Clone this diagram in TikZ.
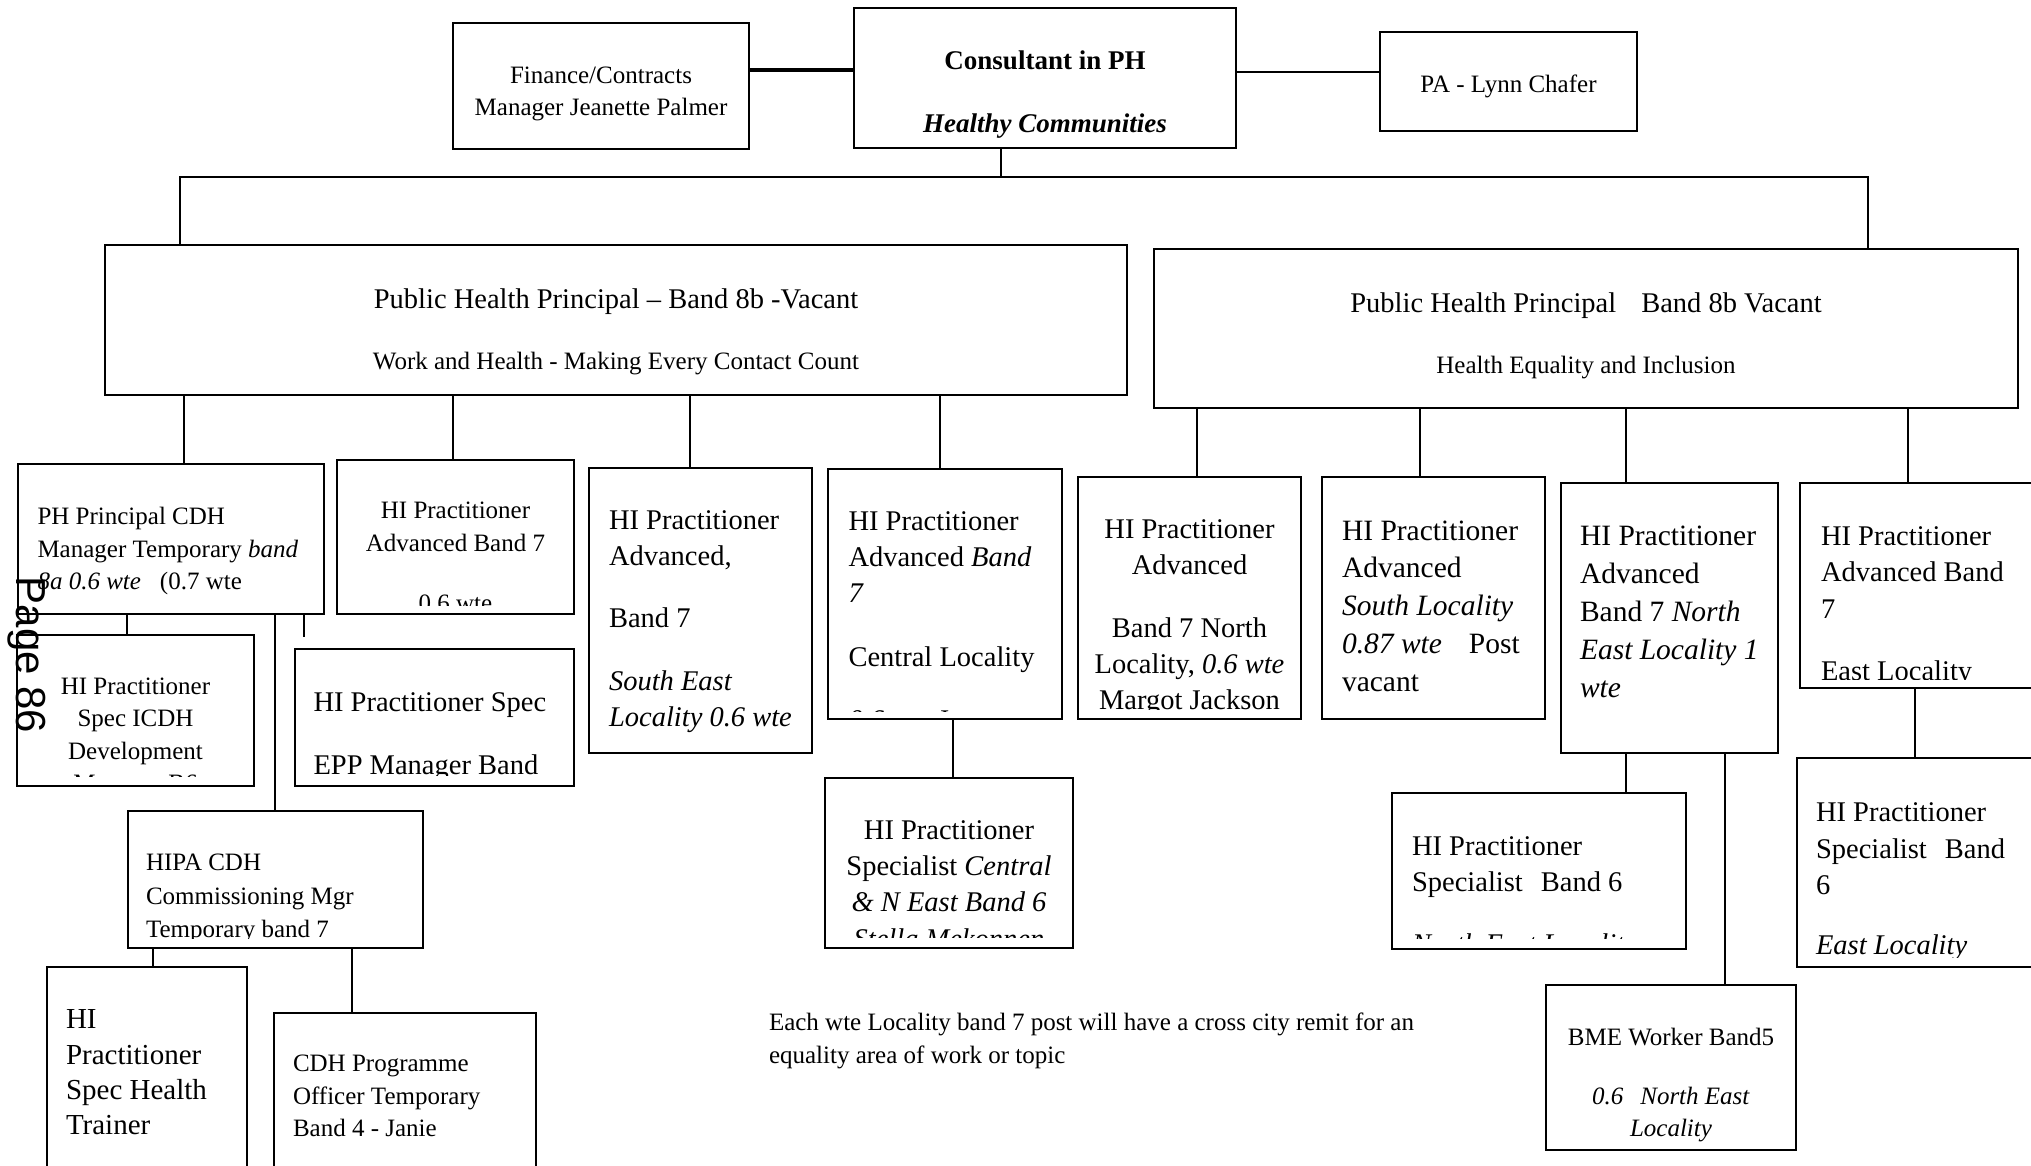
\documentclass[tikz,border=0pt]{standalone}
\usepackage{fontspec}
\setmainfont{Liberation Serif}
\setsansfont{Liberation Sans}
\tikzset{post/.style={draw, line width=2pt, anchor=north west, inner sep=0pt, outer sep=0pt}}
\tikzset{txt/.style={inner sep=0pt, outer sep=0pt}}
\tikzset{link/.style={draw, line width=2pt}}
\newcommand{\fsmall}{\fontsize{25}{32.4}\selectfont}
\newcommand{\fbig}{\fontsize{28.5}{36.3}\selectfont}
\newcommand{\cliptext}[2]{\clip (#1.north west) rectangle ([yshift=#2]#1.south east);}

\begin{document}
\begin{tikzpicture}[x=1pt, y=-1pt]
	\useasboundingbox (0,0) rectangle (2031,1165);
	\clip (0,0) rectangle (2031,1165);
	\fill[white] (0,0) rectangle (2031,1165);

	% top row
	\node[post, minimum width=296pt, minimum height=126pt] (fin) at (453,23) {};
	\node[txt, align=center, font=\fsmall, yshift=-8pt] (fin-t) at (fin.center) {Finance/Contracts\\Manager Jeanette Palmer};
	\node[post, minimum width=382pt, minimum height=140pt] (cons) at (854,8) {};
	\node[txt, align=center, font=\fontsize{27}{32}\selectfont\bfseries, yshift=-16.5pt] (cons-t) at (cons.center) {Consultant in PH\\[31pt]\textit{Healthy Communities}};
	\node[post, minimum width=257pt, minimum height=99pt] (pa) at (1380,32) {};
	\node[txt, font=\fsmall, yshift=-4.5pt] (pa-t) at (pa.center) {PA - Lynn Chafer};

	\draw[link, line width=3.5pt] (fin.east |- 0,70) -- (cons.west |- 0,70);
	\draw[link, line width=2.5pt] (cons.east |- 0,72) -- (pa.west |- 0,72);

	% principals
	\node[post, minimum width=1022pt, minimum height=150pt] (phl) at (105,245) {};
	\node[txt, align=center, font=\fbig, yshift=-11.5pt] (phl-t) at (phl.center) {Public Health Principal – Band 8b -Vacant\\[25pt]{\fsmall Work and Health - Making Every Contact Count}};
	\node[post, minimum width=864pt, minimum height=159pt] (phr) at (1154,249) {};
	\node[txt, align=center, font=\fbig, yshift=-7.5pt] (phr-t) at (phr.center) {Public Health Principal\hspace{25pt}Band 8b Vacant\\[25pt]{\fsmall Health Equality and Inclusion}};

	\coordinate (busL) at (180,177);
	\coordinate (busR) at (1868,177);
	\coordinate (busC) at (1001,177);
	\draw[link, line width=1.3pt] (cons.south -| busC) -- (busC);
	\draw[link] (phl.north -| busL) -- (busL) -- (busR) -- (phr.north -| busR);

	% left branch
	\node[post, minimum width=306pt, minimum height=150pt] (cdh) at (18,464) {};
	\node[txt, align=left, font=\fsmall, anchor=west, xshift=19.5pt, yshift=-12pt] (cdh-t) at (cdh.west) {PH Principal CDH\\Manager Temporary \textit{band}\\\textit{8a 0.6 wte}\hspace{19pt}(0.7 wte};

	\node[post, minimum width=237pt, minimum height=154pt] (adv1) at (337,460) {};
	\begin{scope}\cliptext{adv1}{9pt}
		\node[txt, align=center, font=\fsmall, yshift=-20pt] (adv1-t) at (adv1.center) {HI Practitioner\\Advanced Band 7\\[28pt]0.6 wte};
	\end{scope}

	\node[post, minimum width=223pt, minimum height=285pt] (se) at (589,468) {};
	\node[txt, align=left, font=\fbig, anchor=west, xshift=20pt, yshift=-11pt] (se-t) at (se.west) {HI Practitioner\\Advanced,\\[26pt]Band 7\\[26pt]\textit{South East}\\\textit{Locality 0.6 wte}};

	\node[post, minimum width=234pt, minimum height=250pt] (cen) at (828,469) {};
	\begin{scope}\cliptext{cen}{8pt}
		\node[txt, align=left, font=\fbig, anchor=west, xshift=20.5pt, yshift=-26.5pt] (cen-t) at (cen.west) {HI Practitioner\\Advanced \textit{Band}\\\textit{7}\\[27pt]Central Locality\\[27pt]\textit{0.6 wte} Joanne};
	\end{scope}

	\draw[link] (phl.south -| 184,0) -- (cdh.north -| 184,0);
	\draw[link] (phl.south -| 453,0) -- (adv1.north -| 453,0);
	\draw[link] (phl.south -| 690,0) -- (se.north -| 690,0);
	\draw[link] (phl.south -| 940,0) -- (cen.north -| 940,0);

	% right branch
	\node[post, minimum width=223pt, minimum height=242pt] (nth) at (1078,477) {};
	\begin{scope}\cliptext{nth}{10pt}
		\node[txt, align=center, font=\fbig, yshift=-19.5pt] (nth-t) at (nth.center) {HI Practitioner\\Advanced\\[26.5pt]Band 7 North\\Locality, \textit{0.6 wte}\\Margot Jackson};
	\end{scope}

	\node[post, minimum width=223pt, minimum height=242pt] (sth) at (1322,477) {};
	\node[txt, align=left, font=\fontsize{29.5}{37.7}\selectfont, anchor=west, xshift=20pt, yshift=-8pt] (sth-t) at (sth.west) {HI Practitioner\\Advanced\\\textit{South Locality}\\\textit{0.87 wte}\hspace{27pt}Post\\vacant};

	\node[post, minimum width=217pt, minimum height=270pt] (ne) at (1561,483) {};
	\node[txt, align=left, font=\fontsize{29.5}{37.9}\selectfont, anchor=west, xshift=19pt, yshift=6pt] (ne-t) at (ne.west) {HI Practitioner\\Advanced\\Band 7 \textit{North}\\\textit{East Locality 1}\\\textit{wte}};

	\node[post, minimum width=250pt, minimum height=205pt] (east) at (1800,483) {};
	\begin{scope}\cliptext{east}{9pt}
		\node[txt, align=left, font=\fbig, anchor=west, xshift=21pt, yshift=-21pt] (east-t) at (east.west) {HI Practitioner\\Advanced Band\\7\\[26pt]East Locality};
	\end{scope}

	\draw[link] (phr.south -| 1197,0) -- (nth.north -| 1197,0);
	\draw[link] (phr.south -| 1420,0) -- (sth.north -| 1420,0);
	\draw[link] (phr.south -| 1626,0) -- (ne.north -| 1626,0);
	\draw[link] (phr.south -| 1908,0) -- (east.north -| 1908,0);

	% third level
	\node[post, minimum width=237pt, minimum height=151pt] (icdh) at (17,635) {};
	\begin{scope}\cliptext{icdh}{10pt}
		\node[txt, align=center, font=\fsmall, yshift=-27pt] (icdh-t) at (icdh.center) {HI Practitioner\\Spec ICDH\\Development\\Manager B6};
	\end{scope}

	\node[post, minimum width=279pt, minimum height=137pt] (epp) at (295,649) {};
	\begin{scope}\cliptext{epp}{11pt}
		\node[txt, align=left, font=\fbig, anchor=west, xshift=18.5pt, yshift=-19pt] (epp-t) at (epp.west) {HI Practitioner Spec\\[26pt]EPP Manager Band};
	\end{scope}

	\node[post, minimum width=295pt, minimum height=137pt] (hipa) at (128,811) {};
	\begin{scope}\cliptext{hipa}{10pt}
		\node[txt, align=left, font=\fontsize{25}{33.7}\selectfont, anchor=west, xshift=18pt, yshift=-19pt] (hipa-t) at (hipa.west) {HIPA CDH\\Commissioning Mgr\\Temporary band 7};
	\end{scope}

	\node[post, minimum width=200pt, minimum height=250pt] (ht) at (47,967) {};
	\node[txt, align=left, font=\fontsize{29}{35.4}\selectfont, anchor=west, xshift=19pt, yshift=19.5pt] (ht-t) at (ht.west) {HI\\Practitioner\\Spec Health\\Trainer};

	\node[post, minimum width=262pt, minimum height=200pt] (cdhp) at (274,1013) {};
	\node[txt, align=left, font=\fsmall, anchor=west, xshift=19pt, yshift=17pt] (cdhp-t) at (cdhp.west) {CDH Programme\\Officer Temporary\\Band 4 - Janie};

	\coordinate (eppstub) at (304,637);
	\draw[link] (cdh.south -| 127,0) -- (icdh.north -| 127,0);
	\draw[link] (cdh.south -| 275,0) -- (hipa.north -| 275,0);
	\draw[link] (cdh.south -| eppstub) -- (eppstub);
	\draw[link] (hipa.south -| 153,0) -- (ht.north -| 153,0);
	\draw[link] (hipa.south -| 352,0) -- (cdhp.north -| 352,0);

	\node[post, minimum width=248pt, minimum height=170pt] (spc) at (825,778) {};
	\begin{scope}\cliptext{spc}{11pt}
		\node[txt, align=center, font=\fbig, yshift=-21.5pt] (spc-t) at (spc.center) {HI Practitioner\\Specialist \textit{Central}\\\textit{\& N East Band 6}\\\textit{Stella Mekonnen}};
	\end{scope}
	\draw[link] (cen.south -| 953,0) -- (spc.north -| 953,0);

	\node[post, minimum width=294pt, minimum height=156pt] (spn) at (1392,793) {};
	\begin{scope}\cliptext{spn}{11pt}
		\node[txt, align=left, font=\fbig, anchor=west, xshift=20pt, yshift=-27pt] (spn-t) at (spn.west) {HI Practitioner\\Specialist\hspace{18pt}Band 6\\[26pt]\textit{North East Locality}};
	\end{scope}

	\node[post, minimum width=250pt, minimum height=165pt] (bme) at (1546,985) {};
	\node[txt, align=center, font=\fsmall, yshift=-17.5pt] (bme-t) at (bme.center) {BME Worker Band5\\[27pt]\textit{0.6\hspace{17pt}North East}\\\textit{Locality}};

	\node[post, minimum width=260pt, minimum height=209pt] (spe) at (1797,758) {};
	\begin{scope}\cliptext{spe}{10pt}
		\node[txt, align=left, font=\fbig, anchor=west, xshift=19pt, yshift=-19.5pt] (spe-t) at (spe.west) {HI Practitioner\\Specialist\hspace{18pt}Band\\6\\[24pt]\textit{East Locality}};
	\end{scope}

	\draw[link] (ne.south -| 1626,0) -- (spn.north -| 1626,0);
	\draw[link] (ne.south -| 1725,0) -- (bme.north -| 1725,0);
	\draw[link] (east.south -| 1915,0) -- (spe.north -| 1915,0);

	\node[txt, align=left, font=\fsmall, anchor=west] (note) at (769,1041) {Each wte Locality band 7 post will have a cross city remit for an\\equality area of work or topic};

	\node[txt, rotate=-90, font=\sffamily\fontsize{42}{42}\selectfont] (page) at (27,655) {Page 86};
\end{tikzpicture}
\end{document}
